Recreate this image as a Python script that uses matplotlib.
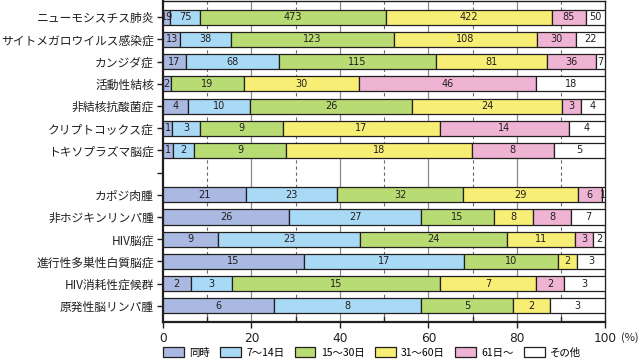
import numpy as np
import matplotlib.pyplot as plt
from matplotlib.patches import Patch

plt.rcParams['font.family'] = ['Noto Sans CJK JP', 'DejaVu Sans']

# 疾患名（空文字は区切りの空行）
diseases = ['ニューモシスチス肺炎', 'サイトメガロウイルス感染症', 'カンジダ症', '活動性結核',
            '非結核抗酸菌症', 'クリプトコックス症', 'トキソプラズマ脳症', '',
            'カポジ肉腫', '非ホジキンリンパ腫', 'HIV脳症', '進行性多巣性白質脳症',
            'HIV消耗性症候群', '原発性脳リンパ腫']

series_names = ['同時', '7～14日', '15～30日', '31～60日', '61日～', 'その他']
colors = ['#a9b9e1', '#a8d9f5', '#b8db74', '#f7ef75', '#efb3d3', '#ffffff']

# 件数（空行は None）
doji    = [19, 13, 17, 2, 4, 1, 1, None, 21, 26, 9, 15, 2, 6]
d7_14   = [75, 38, 68, 0, 10, 3, 2, None, 23, 27, 23, 17, 3, 8]
d15_30  = [473, 123, 115, 19, 26, 9, 9, None, 32, 15, 24, 10, 15, 5]
d31_60  = [422, 108, 81, 30, 24, 17, 18, None, 29, 8, 11, 2, 7, 2]
d61     = [85, 30, 36, 46, 3, 14, 8, None, 6, 8, 3, 0, 2, 0]
sonota  = [50, 22, 7, 18, 4, 4, 5, None, 1, 7, 2, 3, 3, 3]

all_series = [doji, d7_14, d15_30, d31_60, d61, sonota]

fig = plt.figure(figsize=(6.38, 3.62), dpi=100)
ax = fig.add_axes([0.2555, 0.1105, 0.6935, 0.8865])

edge = '#231f20'
num_font = ['Liberation Sans Narrow', 'DejaVu Sans']

for i, name in enumerate(diseases):
    if name == '':
        continue
    vals = [s[i] for s in all_series]
    total = sum(vals)
    left = 0.0
    for k, v in enumerate(vals):
        if v == 0:
            continue
        w = v / total * 100
        ax.barh(i, w, left=left, height=0.68, color=colors[k],
                edgecolor=edge, linewidth=0.9, zorder=3)
        ax.text(left + w / 2, i, str(v), ha='center', va='center',
                fontsize=7, family=num_font, color='#231f20', zorder=4)
        left += w

# グリッド
for x in [20, 40, 60, 80]:
    ax.axvline(x, color='#8a8a8a', lw=0.9, zorder=1)
for x in [10, 30, 50, 70, 90]:
    ax.axvline(x, color='#6a6a6a', lw=0.8, ls=(0, (3, 2.5)), zorder=1)

ax.set_xlim(0, 100)
ax.set_ylim(13.73, -0.73)
ax.set_yticks(range(len(diseases)))
ax.set_yticklabels(diseases, fontsize=8.5, color='#231f20')
ax.set_xticks([0, 20, 40, 60, 80, 100])
ax.set_xticklabels(['0', '20', '40', '60', '80', '100'], fontsize=8.7,
                   family=num_font, color='#231f20')
ax.set_xticks([10, 30, 50, 70, 90], minor=True)
ax.tick_params(axis='x', which='major', direction='out', length=4, width=1, color=edge)
ax.tick_params(axis='x', which='minor', direction='in', length=4, width=1, color=edge)
ax.tick_params(axis='y', direction='out', length=4, width=1, color=edge, pad=2.5)
ax.annotate('(%)', xy=(100, 0), xycoords=('data', 'axes fraction'),
            xytext=(11, -7.5), textcoords='offset points', ha='left', va='top',
            fontsize=8, color='#231f20')

for side in ['left', 'bottom']:
    ax.spines[side].set_linewidth(1.6)
    ax.spines[side].set_color(edge)
for side in ['top', 'right']:
    ax.spines[side].set_linewidth(1.0)
    ax.spines[side].set_color(edge)

handles = [Patch(facecolor=c, edgecolor=edge, linewidth=0.9) for c in colors]
fig.legend(handles, series_names, loc='center', bbox_to_anchor=(0.583, 0.027),
           ncol=6, frameon=False, fontsize=7.5, handlelength=2.0, handleheight=1.2,
           handletextpad=0.5, columnspacing=1.0)

fig.savefig('out.png', dpi=100)
